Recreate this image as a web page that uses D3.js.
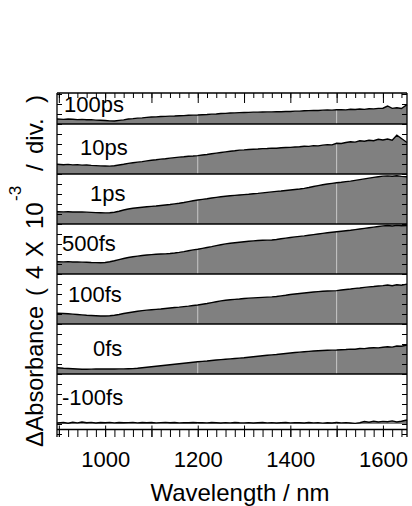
<!DOCTYPE html>
<html>
<head>
<meta charset="utf-8">
<script src="https://cdn.jsdelivr.net/npm/d3@7/dist/d3.min.js"></script>
<style>
body { margin: 0; background: #fff; }
text { font-family: "Liberation Sans", Arial, sans-serif; fill: #000; }
</style>
</head>
<body>
<div id="chart"></div>
<script>
// wavelength grid (nm)
var wavelength = [896, 910, 920, 930, 940, 950, 960, 970, 980, 990,
  1000, 1010, 1020, 1030, 1040, 1050, 1060, 1070, 1080, 1090,
  1100, 1110, 1120, 1130, 1140, 1150, 1160, 1170, 1180, 1190,
  1200, 1210, 1220, 1230, 1240, 1250, 1260, 1270, 1280, 1290,
  1300, 1310, 1320, 1330, 1340, 1350, 1360, 1370, 1380, 1390,
  1400, 1410, 1420, 1430, 1440, 1450, 1460, 1470, 1480, 1490,
  1500, 1510, 1520, 1530, 1540, 1550, 1560, 1570, 1580, 1590,
  1600, 1610, 1620, 1630, 1640, 1652];

var delays = ["100ps", "10ps", "1ps", "500fs", "100fs", "0fs", "-100fs"];

// transient absorption, in 10^-3
var abs100ps = [0.40, 0.37, 0.40, 0.38, 0.35, 0.37, 0.34, 0.35, 0.31, 0.30,
  0.28, 0.25, 0.24, 0.29, 0.33, 0.40, 0.43, 0.47, 0.49, 0.53,
  0.56, 0.57, 0.60, 0.61, 0.63, 0.64, 0.66, 0.67, 0.70, 0.71,
  0.72, 0.74, 0.76, 0.79, 0.80, 0.84, 0.85, 0.88, 0.89, 0.91,
  0.92, 0.93, 0.95, 0.95, 0.96, 0.97, 0.97, 0.99, 0.98, 1.00,
  1.00, 1.03, 1.03, 1.06, 1.07, 1.09, 1.08, 1.11, 1.12, 1.11,
  1.14, 1.15, 1.13, 1.18, 1.16, 1.20, 1.17, 1.22, 1.21, 1.25,
  1.26, 1.44, 1.25, 1.30, 1.24, 1.55];
var abs10ps = [0.78, 0.74, 0.77, 0.73, 0.75, 0.71, 0.72, 0.69, 0.67, 0.65,
  0.64, 0.63, 0.66, 0.72, 0.78, 0.85, 0.90, 0.95, 0.99, 1.05,
  1.10, 1.14, 1.19, 1.22, 1.27, 1.31, 1.35, 1.38, 1.42, 1.44,
  1.47, 1.52, 1.56, 1.62, 1.67, 1.72, 1.77, 1.82, 1.86, 1.91,
  1.93, 1.96, 1.98, 2.00, 2.03, 2.04, 2.07, 2.06, 2.10, 2.12,
  2.13, 2.16, 2.18, 2.22, 2.21, 2.27, 2.25, 2.31, 2.35, 2.33,
  2.46, 2.44, 2.52, 2.58, 2.55, 2.66, 2.62, 2.70, 2.66, 2.78,
  2.72, 2.80, 2.70, 3.10, 2.84, 2.52];
var abs1ps = [0.98, 0.97, 0.98, 0.96, 0.97, 0.96, 0.95, 0.93, 0.91, 0.90,
  0.89, 0.90, 0.94, 1.02, 1.12, 1.20, 1.26, 1.30, 1.34, 1.38,
  1.41, 1.44, 1.48, 1.52, 1.56, 1.61, 1.66, 1.72, 1.79, 1.86,
  1.92, 1.97, 2.02, 2.08, 2.13, 2.18, 2.22, 2.26, 2.29, 2.32,
  2.35, 2.38, 2.42, 2.45, 2.49, 2.53, 2.57, 2.61, 2.64, 2.68,
  2.72, 2.76, 2.80, 2.85, 2.92, 3.00, 3.07, 3.14, 3.20, 3.25,
  3.30, 3.34, 3.39, 3.43, 3.49, 3.55, 3.61, 3.67, 3.73, 3.78,
  3.83, 3.85, 3.82, 3.86, 3.81, 3.78];
var abs500fs = [0.98, 0.97, 0.99, 0.96, 0.97, 0.95, 0.94, 0.92, 0.91, 0.90,
  0.92, 0.98, 1.06, 1.15, 1.24, 1.32, 1.38, 1.43, 1.48, 1.52,
  1.55, 1.58, 1.60, 1.61, 1.64, 1.68, 1.73, 1.79, 1.86, 1.93,
  1.98, 2.05, 2.12, 2.19, 2.27, 2.34, 2.41, 2.46, 2.50, 2.54,
  2.58, 2.62, 2.65, 2.68, 2.70, 2.71, 2.72, 2.76, 2.82, 2.87,
  2.92, 2.97, 3.01, 3.05, 3.10, 3.15, 3.20, 3.25, 3.30, 3.34,
  3.38, 3.42, 3.46, 3.50, 3.55, 3.60, 3.65, 3.70, 3.75, 3.80,
  3.85, 3.88, 3.84, 3.89, 3.86, 3.88];
var abs100fs = [0.86, 0.84, 0.82, 0.79, 0.76, 0.73, 0.70, 0.68, 0.66, 0.64,
  0.64, 0.66, 0.70, 0.76, 0.84, 0.90, 0.96, 1.02, 1.07, 1.11,
  1.14, 1.17, 1.20, 1.24, 1.28, 1.32, 1.35, 1.39, 1.43, 1.48,
  1.52, 1.58, 1.64, 1.71, 1.78, 1.85, 1.90, 1.94, 1.97, 2.00,
  2.04, 2.07, 2.09, 2.11, 2.13, 2.15, 2.17, 2.20, 2.25, 2.30,
  2.36, 2.40, 2.44, 2.48, 2.52, 2.56, 2.59, 2.62, 2.64, 2.65,
  2.67, 2.72, 2.76, 2.80, 2.85, 2.88, 2.93, 2.97, 3.00, 3.04,
  3.07, 3.12, 3.06, 3.14, 3.10, 3.19];
var abs0fs = [0.50, 0.46, 0.44, 0.42, 0.40, 0.38, 0.38, 0.39, 0.40, 0.40,
  0.40, 0.40, 0.40, 0.41, 0.41, 0.42, 0.43, 0.46, 0.50, 0.54,
  0.58, 0.62, 0.66, 0.70, 0.74, 0.78, 0.82, 0.86, 0.90, 0.94,
  0.98, 1.01, 1.04, 1.08, 1.12, 1.15, 1.18, 1.21, 1.24, 1.27,
  1.30, 1.34, 1.38, 1.42, 1.46, 1.50, 1.53, 1.56, 1.60, 1.64,
  1.68, 1.72, 1.75, 1.78, 1.81, 1.84, 1.86, 1.88, 1.90, 1.91,
  1.92, 1.94, 1.96, 1.99, 1.98, 2.04, 2.03, 2.08, 2.10, 2.09,
  2.14, 2.18, 2.15, 2.24, 2.22, 2.32];
var absM100fs = [0.08, 0.12, 0.06, 0.14, 0.09, 0.16, 0.10, 0.13, 0.08, 0.12,
  0.10, 0.13, 0.09, 0.12, 0.10, 0.11, 0.13, 0.09, 0.12, 0.10,
  0.12, 0.09, 0.11, 0.13, 0.10, 0.12, 0.09, 0.11, 0.10, 0.12,
  0.10, 0.11, 0.09, 0.12, 0.10, 0.08, 0.11, 0.09, 0.12, 0.10,
  0.09, 0.11, 0.08, 0.10, 0.12, 0.09, 0.11, 0.08, 0.10, 0.12,
  0.09, 0.11, 0.10, 0.08, 0.12, 0.09, 0.11, 0.07, 0.10, 0.08,
  0.12, 0.09, 0.11, 0.08, 0.05, 0.10, 0.20, 0.14, 0.22, 0.16,
  0.21, 0.18, 0.25, 0.16, 0.22, 0.32];

var spectra = [abs100ps, abs10ps, abs1ps, abs500fs, abs100fs, abs0fs, absM100fs];
var offsets = [24, 20, 16, 12, 8, 4, 0];   // stacked 4 x 10^-3 per division
var xLabels = [1000, 1200, 1400, 1600];

// layout
var W = 412, H = 506;
var plotL = 57, plotR = 407, plotT = 93, plotB = 437, axisY = 429.5;
var labelX = [64, 80, 90, 62, 68, 93, 62];
var labelLift = [0.96, 1.52, 1.86, 1.86, 1.76, 1.46, 1.52];

var svg = d3.select("#chart").append("svg")
    .attr("width", W)
    .attr("height", H);

var x = d3.scaleLinear().domain([896, 1652]).range([plotL, plotR]);
var y = d3.scaleLinear().domain([-1.04, 26.48]).range([plotB, plotT]);

// filled spectra
var area = d3.area()
    .x(function(d) { return x(d.w); })
    .y0(function(d) { return y(d.base); })
    .y1(function(d) { return y(d.base + d.v); });
var line = d3.line()
    .x(function(d) { return x(d.w); })
    .y(function(d) { return y(d.base + d.v); });

var traces = spectra.map(function(s, i) {
    return s.map(function(v, j) { return {w: wavelength[j], v: v, base: offsets[i]}; });
});

var clip = svg.append("defs").append("clipPath").attr("id", "fills");
clip.selectAll("path").data(traces).enter().append("path").attr("d", area);

svg.selectAll("path.fill").data(traces).enter().append("path")
    .attr("class", "fill")
    .attr("d", area)
    .attr("fill", "#808080");

// pale seams visible in the fills
svg.append("g").attr("clip-path", "url(#fills)")
  .selectAll("line").data([1200, 1500]).enter().append("line")
    .attr("x1", function(d) { return x(d); })
    .attr("x2", function(d) { return x(d); })
    .attr("y1", plotT).attr("y2", plotB)
    .attr("stroke", "#c8c8c8")
    .attr("stroke-width", 1);

svg.selectAll("path.trace").data(traces).enter().append("path")
    .attr("class", "trace")
    .attr("d", line)
    .attr("fill", "none")
    .attr("stroke", "#000")
    .attr("stroke-width", 1.4);

// division lines
svg.selectAll("line.div").data(offsets.filter(function(o) { return o > 0; }))
  .enter().append("line")
    .attr("class", "div")
    .attr("x1", plotL).attr("x2", plotR)
    .attr("y1", function(d) { return y(d); })
    .attr("y2", function(d) { return y(d); })
    .attr("stroke", "#000")
    .attr("stroke-width", 1.5);

// ticks
var yTicks = d3.range(-1, 34).map(function(k) { return k * 0.8; })
    .filter(function(v) { return v <= 26.48; });
var xMinor = d3.range(900, 1652, 20);
var xMajor = d3.range(900, 1652, 100);

function clean(g) { g.select(".domain").remove(); g.selectAll("text").remove(); }

svg.append("g").attr("transform", "translate(" + plotL + ",0)")
    .call(d3.axisRight(y).tickValues(yTicks).tickSize(5)).call(clean);
svg.append("g").attr("transform", "translate(" + plotR + ",0)")
    .call(d3.axisLeft(y).tickValues(yTicks).tickSize(5)).call(clean);

svg.append("g").attr("transform", "translate(0," + plotT + ")")
    .call(d3.axisBottom(x).tickValues(xMinor).tickSize(5)).call(clean);
svg.append("g").attr("transform", "translate(0," + plotT + ")")
    .call(d3.axisBottom(x).tickValues(xMajor).tickSize(10)).call(clean);

svg.append("g").attr("transform", "translate(0," + axisY + ")")
    .call(d3.axisBottom(x).tickValues(xMinor).tickSize(plotB - axisY)).call(clean);
svg.append("g").attr("transform", "translate(0," + (axisY - 4) + ")")
    .call(d3.axisBottom(x).tickValues(xMajor).tickSize(plotB - axisY + 4)).call(clean);

svg.selectAll(".tick line").attr("stroke", "#000").attr("stroke-width", 1);

var xAxis = svg.append("g").attr("transform", "translate(0," + plotB + ")")
    .call(d3.axisBottom(x).tickValues(xLabels).tickSize(0).tickPadding(14)
        .tickFormat(d3.format("d")));
xAxis.select(".domain").remove();
xAxis.selectAll("text")
    .attr("font-size", 22)
    .attr("font-family", "'Liberation Sans', Arial, sans-serif");

// frame
var frame = svg.append("g").attr("stroke", "#000").attr("stroke-width", 1.3);
frame.append("line").attr("x1", plotL).attr("x2", plotL).attr("y1", plotT).attr("y2", plotB);
frame.append("line").attr("x1", plotR).attr("x2", plotR).attr("y1", plotT).attr("y2", plotB);
frame.append("line").attr("x1", plotL).attr("x2", plotR).attr("y1", plotT).attr("y2", plotT);
frame.append("line").attr("x1", plotL).attr("x2", plotR).attr("y1", axisY).attr("y2", axisY);

// delay labels
svg.selectAll("text.delay").data(delays).enter().append("text")
    .attr("class", "delay")
    .attr("x", function(d, i) { return labelX[i]; })
    .attr("y", function(d, i) { return y(offsets[i] + labelLift[i]); })
    .attr("font-size", 22)
    .text(function(d) { return d; });

// axis titles
svg.append("text")
    .attr("x", 240)
    .attr("y", 501)
    .attr("text-anchor", "middle")
    .attr("font-size", 24)
    .text("Wavelength / nm");

var yt = svg.append("text")
    .attr("transform", "translate(43,447) rotate(-90)")
    .attr("font-size", 24);
var yParts = [
    {t: "\u0394Absorbance", x: 0, dy: 0, size: 23.5},
    {t: "(", x: 151, dy: 0},
    {t: "4", x: 168, dy: 0},
    {t: "X", x: 190, dy: 0},
    {t: "10", x: 218, dy: 0},
    {t: "-3", x: 246, dy: -22, size: 17},
    {t: "/", x: 276, dy: 22},
    {t: "div.", x: 293, dy: 0},
    {t: ")", x: 344, dy: 0}
];
yParts.forEach(function(p) {
    var ts = yt.append("tspan").attr("x", p.x).attr("dy", p.dy).text(p.t);
    if (p.size) ts.attr("font-size", p.size);
});
</script>
</body>
</html>
